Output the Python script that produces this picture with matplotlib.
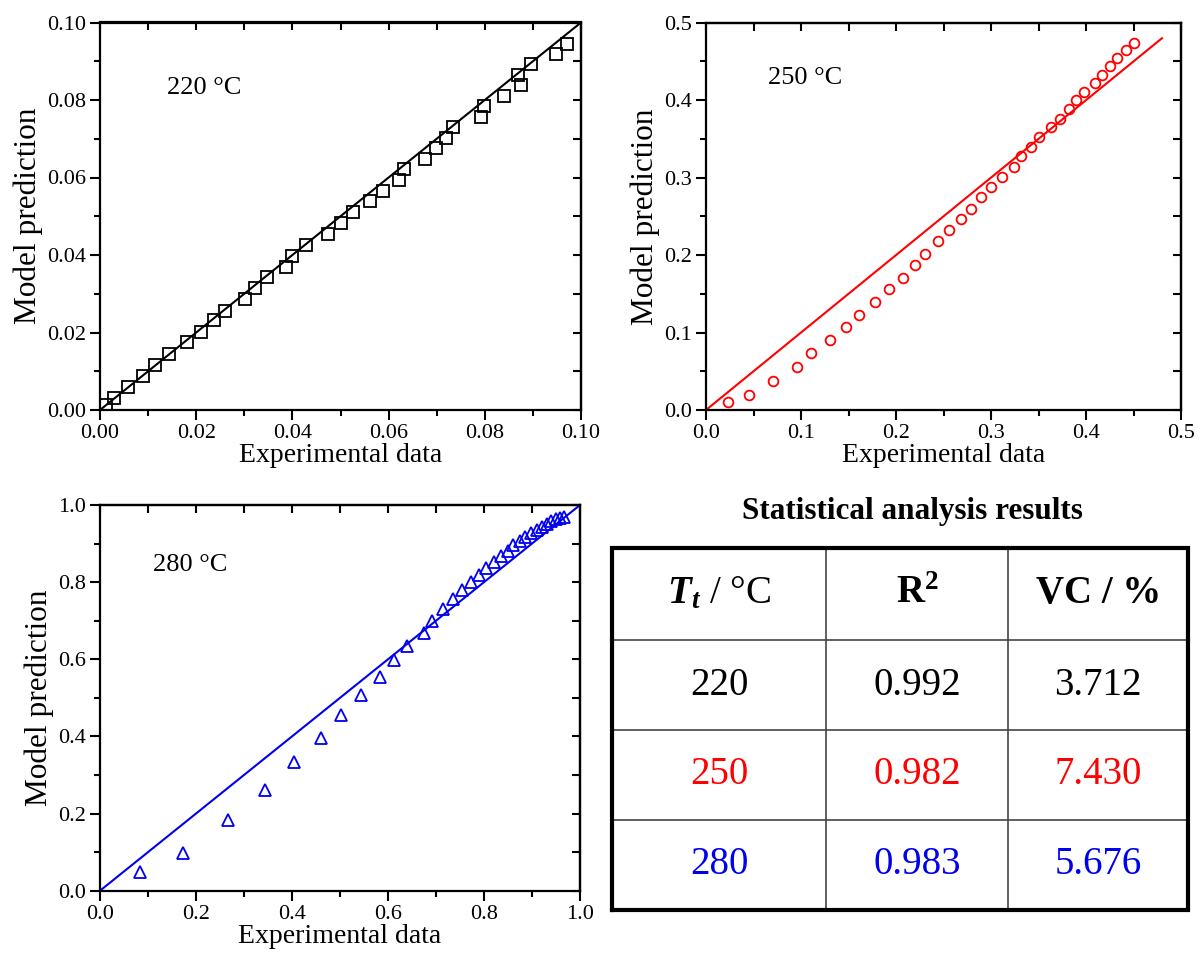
import matplotlib
matplotlib.use("Agg")
import matplotlib.pyplot as plt
from matplotlib.ticker import MultipleLocator, FormatStrFormatter, NullFormatter

plt.rcParams['font.family'] = ['Liberation Serif', 'DejaVu Serif']
plt.rcParams['mathtext.fontset'] = 'custom'
plt.rcParams['mathtext.rm'] = 'Liberation Serif'
plt.rcParams['mathtext.it'] = 'Liberation Serif:italic'
plt.rcParams['mathtext.bf'] = 'Liberation Serif:bold'
plt.rcParams['mathtext.bfit'] = 'Liberation Serif:italic:bold'

# ---------------- data ----------------
exp_220 = [0.0013, 0.0029, 0.0059, 0.0089, 0.0115, 0.0144, 0.0180, 0.0211, 0.0236, 0.0260,
           0.0301, 0.0322, 0.0348, 0.0387, 0.0400, 0.0428, 0.0473, 0.0501, 0.0526, 0.0561,
           0.0589, 0.0622, 0.0631, 0.0675, 0.0699, 0.0719, 0.0733, 0.0792, 0.0799, 0.0839,
           0.0875, 0.0870, 0.0897, 0.0947, 0.0971]
mod_220 = [0.0013, 0.0030, 0.0059, 0.0088, 0.0116, 0.0145, 0.0175, 0.0202, 0.0231, 0.0256,
           0.0286, 0.0314, 0.0342, 0.0370, 0.0398, 0.0426, 0.0454, 0.0483, 0.0511, 0.0539,
           0.0566, 0.0594, 0.0621, 0.0649, 0.0676, 0.0703, 0.0730, 0.0757, 0.0785, 0.0810,
           0.0838, 0.0865, 0.0892, 0.0918, 0.0945]

exp_250 = [0.023, 0.045, 0.071, 0.096, 0.111, 0.130, 0.147, 0.161, 0.178, 0.193, 0.207, 0.220,
           0.231, 0.244, 0.256, 0.268, 0.279, 0.289, 0.300, 0.312, 0.324, 0.332, 0.342, 0.351,
           0.363, 0.373, 0.382, 0.389, 0.398, 0.409, 0.417, 0.425, 0.433, 0.442, 0.451]
mod_250 = [0.010, 0.019, 0.037, 0.055, 0.073, 0.090, 0.107, 0.123, 0.139, 0.156, 0.171, 0.187,
           0.202, 0.218, 0.232, 0.246, 0.260, 0.275, 0.288, 0.301, 0.314, 0.328, 0.340, 0.353,
           0.365, 0.376, 0.388, 0.400, 0.411, 0.422, 0.433, 0.444, 0.454, 0.465, 0.474]

exp_280 = [0.083, 0.172, 0.266, 0.344, 0.404, 0.460, 0.502, 0.543, 0.583, 0.613, 0.640, 0.674,
           0.692, 0.714, 0.736, 0.755, 0.773, 0.789, 0.804, 0.821, 0.835, 0.849, 0.861, 0.874,
           0.886, 0.898, 0.910, 0.921, 0.931, 0.940, 0.950, 0.958, 0.967]
mod_280 = [0.049, 0.097, 0.183, 0.261, 0.333, 0.397, 0.456, 0.507, 0.555, 0.598, 0.635, 0.667,
           0.700, 0.730, 0.757, 0.780, 0.800, 0.819, 0.836, 0.853, 0.868, 0.882, 0.895, 0.906,
           0.917, 0.927, 0.936, 0.944, 0.952, 0.958, 0.963, 0.967, 0.970]

line_220 = [0.0, 0.10]
line_250 = [0.0, 0.48]
line_280 = [0.0, 1.0]

table_title = "Statistical analysis results"
table_header = [r"$\mathbfit{T}_{\mathbfit{t}}$ / °C", r"$\mathbf{R^2}$", "VC / %"]
header_weights = ['normal', 'normal', 'bold']
temps = ["220", "250", "280"]
r2_vals = ["0.992", "0.982", "0.983"]
vc_vals = ["3.712", "7.430", "5.676"]
row_colors = ["black", "#ff0000", "#0000ee"]

# ---------------- figure ----------------
W, H = 1200, 958
fig = plt.figure(figsize=(W / 100, H / 100), dpi=100)


def px_axes(l, t, r, b):
    return fig.add_axes([l / W, 1 - b / H, (r - l) / W, (b - t) / H])


def style(ax, lim, major, minor, fmt):
    ax.set_xlim(0, lim)
    ax.set_ylim(0, lim)
    for a in (ax.xaxis, ax.yaxis):
        a.set_major_locator(MultipleLocator(major))
        a.set_minor_locator(MultipleLocator(minor))
        a.set_major_formatter(FormatStrFormatter(fmt))
    ax.tick_params(which='both', direction='out', width=1.5, labelsize=16, pad=3)
    ax.tick_params(which='major', length=7)
    ax.tick_params(which='minor', length=4)
    for s in ax.spines.values():
        s.set_linewidth(1.6)
    # mirrored inward ticks on top and right, without labels
    top = ax.secondary_xaxis('top')
    right = ax.secondary_yaxis('right')
    for a in (top.xaxis, right.yaxis):
        a.set_major_locator(MultipleLocator(major))
        a.set_minor_locator(MultipleLocator(minor))
        a.set_major_formatter(NullFormatter())
        a.set_minor_formatter(NullFormatter())
    for sec in (top, right):
        sec.tick_params(which='both', direction='in', length=6, width=1.5)
        for s in sec.spines.values():
            s.set_linewidth(1.6)
    ax.set_xlabel("Experimental data", fontsize=20, labelpad=0)
    ax.set_ylabel("Model prediction", fontsize=22.5, labelpad=3)


# top-left 220 °C
ax1 = px_axes(100, 22.5, 581, 410)
ax1.plot(line_220, line_220, color='black', lw=1.5)
ax1.plot(exp_220, mod_220, linestyle='none', marker='s', ms=8, mfc='none', mec='black', mew=1.3)
style(ax1, 0.10, 0.02, 0.01, '%.2f')
ax1.text(0.0139, 0.083, "220 °C", fontsize=19, va='center', ha='left')

# top-right 250 °C
ax2 = px_axes(706, 22.7, 1181, 410)
ax2.plot(line_250, line_250, color='#ff0000', lw=1.5)
ax2.plot(exp_250, mod_250, linestyle='none', marker='o', ms=7, mfc='none', mec='#ff0000', mew=1.3)
style(ax2, 0.5, 0.1, 0.05, '%.1f')
ax2.text(0.065, 0.428, "250 °C", fontsize=19, va='center', ha='left')

# bottom-left 280 °C
ax3 = px_axes(100, 505, 580, 890.7)
ax3.plot(line_280, line_280, color='#0000ee', lw=1.5)
ax3.plot(exp_280, mod_280, linestyle='none', marker='^', ms=9, mfc='none', mec='#0000ee', mew=1.3)
style(ax3, 1.0, 0.2, 0.1, '%.1f')
ax3.text(0.111, 0.844, "280 °C", fontsize=19, va='center', ha='left')

# ---------------- table ----------------
fig.text(912 / W, 1 - 512 / H, table_title, fontsize=22.5, fontweight='bold',
         ha='center', va='center')
tax = px_axes(612, 548, 1188, 910)
tax.set_xlim(0, 1)
tax.set_ylim(0, 1)
tax.axis('off')
col_edges = [0.0, 0.372, 0.688, 1.0]
row_edges = [1.0, 0.746, 0.497, 0.249, 0.0]
for x in col_edges[1:-1]:
    tax.plot([x, x], [0, 1], color='#444444', lw=1.2, clip_on=False)
for y in row_edges[1:-1]:
    tax.plot([0, 1], [y, y], color='#444444', lw=1.2, clip_on=False)
tax.plot([0, 1, 1, 0, 0], [0, 0, 1, 1, 0], color='black', lw=3, clip_on=False,
         solid_joinstyle='miter')

centers_x = [(col_edges[i] + col_edges[i + 1]) / 2 for i in range(3)]
centers_y = [(row_edges[i] + row_edges[i + 1]) / 2 for i in range(4)]
for i, h in enumerate(table_header):
    tax.text(centers_x[i], centers_y[0], h, fontsize=28, ha='center', va='center',
             fontweight=header_weights[i])
for r in range(3):
    vals = [temps[r], r2_vals[r], vc_vals[r]]
    for c in range(3):
        tax.text(centers_x[c], centers_y[r + 1], vals[c], fontsize=28, ha='center',
                 va='center', color=row_colors[r])

fig.savefig("out.png", dpi=100)
